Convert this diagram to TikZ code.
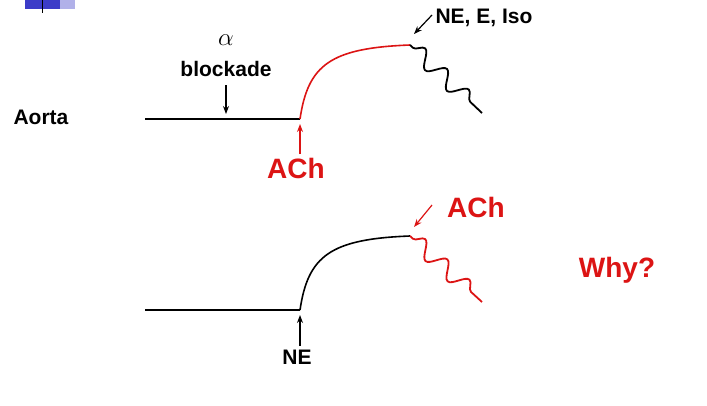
\documentclass[tikz,border=0pt]{standalone}
\usepackage{fontspec}
\setmainfont{Liberation Sans}
\usetikzlibrary{decorations.pathmorphing,arrows.meta}
\definecolor{myred}{RGB}{220,20,20}
\definecolor{myblue}{RGB}{60,60,200}
\begin{document}
\begin{tikzpicture}[x=1pt,y=-1pt,
  lbl/.style={font=\fontsize{21}{24}\selectfont\bfseries},
  big/.style={font=\fontsize{28}{30}\selectfont\bfseries,text=myred},
  tr/.style={line width=1.6pt},
  ar/.style={-{Stealth[length=8pt,width=6pt]},line width=1.2pt},
  wav/.style={line width=1.8pt,decorate,decoration={snake,segment length=30pt,amplitude=8pt,pre length=4pt,post length=4pt}}]
\useasboundingbox (0,0) rectangle (707,405);
\fill[myblue] (25,0) rectangle (60,9);
\fill[myblue!40] (60,0) rectangle (75,9);
\draw[black,line width=0.8pt] (42,0) -- (42,13);
% top
\node[lbl] (aorta) at (41,117) {Aorta};
\node[font=\fontsize{24}{26}\selectfont] (alpha) at (226,40) {$\alpha$};
\node[lbl] (block) at (226,69) {blockade};
\coordinate (bA) at (145,119);
\coordinate (bB) at (300,119);
\coordinate (pT) at (410,45);
\coordinate (wT) at (482,113);
\draw[tr] (bA) -- (bB);
\draw[tr,myred] (bB) .. controls (308,65) and (330,48) .. (pT);
\draw[tr,wav] (pT) -- (wT);
\coordinate (a1s) at (226,85);
\coordinate (a1e) at (226,114);
\draw[ar] (a1s) -- (a1e);
\node[big] (ach1) at (296,168) {ACh};
\draw[ar,myred] (ach1.north -| bB) -- (300,124);
\node[lbl] (ne1) at (484,18) {NE, E, Iso};
\coordinate (n1s) at (432,15);
\coordinate (n1e) at (414,34);
\draw[ar] (n1s) -- (n1e);
% bottom
\coordinate (cA) at (145,310);
\coordinate (cB) at (300,310);
\coordinate (pB) at (410,236);
\coordinate (wB) at (482,302);
\draw[tr] (cA) -- (cB);
\draw[tr] (cB) .. controls (308,256) and (330,239) .. (pB);
\draw[tr,wav,myred] (pB) -- (wB);
\node[lbl] (ne2) at (297,357) {NE};
\draw[ar] (ne2.north -| cB) -- (300,315);
\node[big] (ach2) at (476,207) {ACh};
\coordinate (n2s) at (432,205);
\coordinate (n2e) at (414,227);
\draw[ar,myred] (n2s) -- (n2e);
\node[big] (why) at (617,270) {Why?};
\end{tikzpicture}
\end{document}
